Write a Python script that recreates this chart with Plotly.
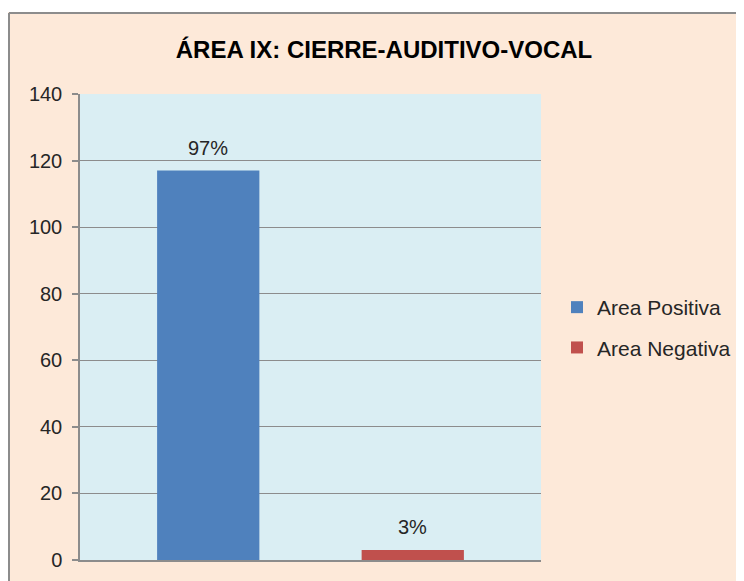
import plotly.graph_objects as go

categories = ["Area Positiva", "Area Negativa"]
values = [117, 3]
labels = ["97%", "3%"]
colors = ["#4F81BD", "#C0504D"]
title_text = "ÁREA IX: CIERRE-AUDITIVO-VOCAL"

W, H = 744, 581
L, R, T, B = 72, 211, 86, 29
pw, ph = W - L - R, H - T - B

def px_x(x):
    return (x - L) / pw

def px_y(y):
    return (H - B - y) / ph

fig = go.Figure()
for i, (c, v) in enumerate(zip(categories, values)):
    fig.add_trace(go.Bar(
        x=[c], y=[v], name=c, marker=dict(color=colors[i], line=dict(width=0)),
        legendgroup=c, showlegend=True, hoverinfo="skip",
    ))
    fig.add_annotation(x=c, y=v, text=labels[i], showarrow=False,
                       yanchor="bottom", yshift=10,
                       font=dict(size=20, color="#262626", family="Liberation Sans"))

peach = "#FDE9D9"
gray = "#8C8C8C"
shapes = [
    dict(type="rect", xref="paper", yref="paper", x0=px_x(-5), x1=px_x(W + 5), y0=px_y(-5), y1=px_y(4),
         fillcolor="white", line=dict(width=0), layer="below"),
    dict(type="line", xref="paper", yref="paper", x0=px_x(1), x1=px_x(W + 5), y0=px_y(5), y1=px_y(5),
         line=dict(color=gray, width=2)),
    dict(type="line", xref="paper", yref="paper", x0=px_x(1), x1=px_x(1), y0=px_y(5), y1=px_y(H + 5),
         line=dict(color=gray, width=2)),
]

fig.update_layout(
    width=W, height=H,
    margin=dict(l=L, r=R, t=T, b=B, pad=0),
    paper_bgcolor=peach, plot_bgcolor="#DAEEF3",
    barmode="overlay", bargap=0.5,
    font=dict(family="Liberation Sans", size=19, color="#262626"),
    title=dict(text="<b>" + title_text + "</b>", xref="container", x=376 / W, xanchor="center",
               yref="container", y=1 - 42 / H, yanchor="middle",
               font=dict(size=24, color="#000000", family="Liberation Sans")),
    showlegend=True,
    legend=dict(x=px_x(549), xanchor="left", y=px_y(319.5), yanchor="middle",
                bgcolor="rgba(0,0,0,0)", tracegroupgap=10, traceorder="grouped",
                font=dict(size=21, color="#262626", family="Liberation Sans")),
    shapes=shapes,
    xaxis=dict(type="category", range=[-0.627, 1.627], showticklabels=False, ticks="",
               showline=True, linecolor=gray, linewidth=1.5, showgrid=False, zeroline=False,
               fixedrange=True),
    yaxis=dict(range=[0, 140], dtick=20, tick0=0, showline=True, linecolor=gray, linewidth=1.5,
               ticks="outside", ticklen=6, tickcolor=gray, tickwidth=1.5,
               showgrid=True, gridcolor=gray, gridwidth=1.2, zeroline=False,
               ticklabelstandoff=6,
               tickfont=dict(size=20, color="#262626", family="Liberation Sans")),
)

fig.write_html("out.html")
